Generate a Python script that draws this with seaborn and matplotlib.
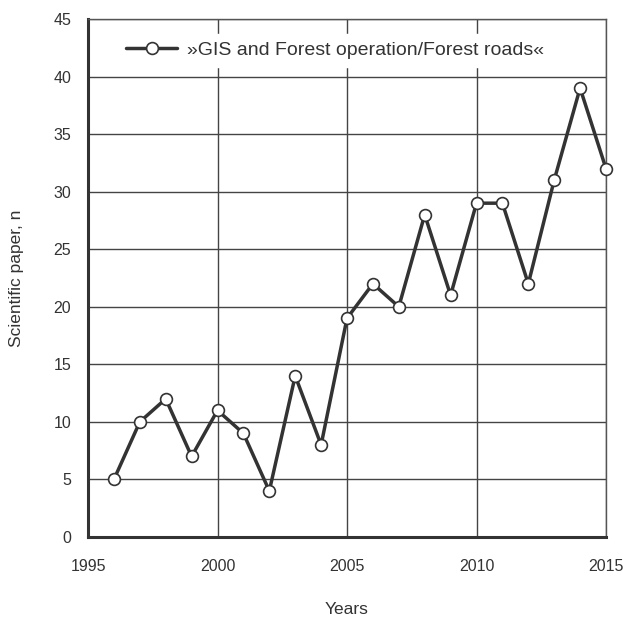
import seaborn as sns
import matplotlib.pyplot as plt
import pandas as pd
from matplotlib import font_manager

years = [1996, 1997, 1998, 1999, 2000, 2001, 2002, 2003, 2004, 2005,
         2006, 2007, 2008, 2009, 2010, 2011, 2012, 2013, 2014, 2015]
papers = [5, 10, 12, 7, 11, 9, 4, 14, 8, 19,
          22, 20, 28, 21, 29, 29, 22, 31, 39, 32]
series_name = "»GIS and Forest operation/Forest roads«"

df = pd.DataFrame({"Years": years, "Scientific paper, n": papers})

sns.set_style("white")
names = {f.name for f in font_manager.fontManager.ttflist}
fam = "Liberation Sans Narrow" if "Liberation Sans Narrow" in names else "Liberation Sans"
plt.rcParams["font.family"] = [fam, "DejaVu Sans"]

fig = plt.figure(figsize=(6.23, 6.19), dpi=100)
ax = fig.add_axes([0.1413, 0.1325, 0.8314, 0.8368])

# the data line
sns.lineplot(data=df, x="Years", y="Scientific paper, n", ax=ax, color="#333333",
             linewidth=2.5, marker="o", markersize=8.5, markerfacecolor="white",
             markeredgecolor="#333333", markeredgewidth=1.2, label=series_name,
             zorder=3, clip_on=False)

ax.set_xlim(1995, 2015)
ax.set_ylim(0, 45)
ax.set_xticks(range(1995, 2016, 5))
ax.set_yticks(range(0, 46, 5))

# grid lines
ax.grid(True, color="#444444", linewidth=1.0)
ax.set_axisbelow(True)

for side in ["top", "right"]:
    ax.spines[side].set_color("#555555")
    ax.spines[side].set_linewidth(1.0)
for side in ["left", "bottom"]:
    ax.spines[side].set_color("#333333")
    ax.spines[side].set_linewidth(2.2)

ax.tick_params(axis="both", direction="out", length=6, width=2, color="#333333",
               labelsize=11.5, labelcolor="#333333", pad=6)
ax.tick_params(axis="x", pad=10)

ax.set_xlabel("Years", fontsize=12.5, color="#333333", labelpad=20)
ax.set_ylabel("Scientific paper, n", fontsize=12.5, color="#333333", labelpad=21)

leg = ax.legend(loc="upper center", bbox_to_anchor=(0.477, 0.99), frameon=True,
                fontsize=14, handlelength=2.6, handletextpad=0.5,
                labelcolor="#333333")
leg.get_frame().set_facecolor("white")
leg.get_frame().set_edgecolor("white")
leg.get_frame().set_alpha(1)

fig.savefig("out.png", dpi=100)
